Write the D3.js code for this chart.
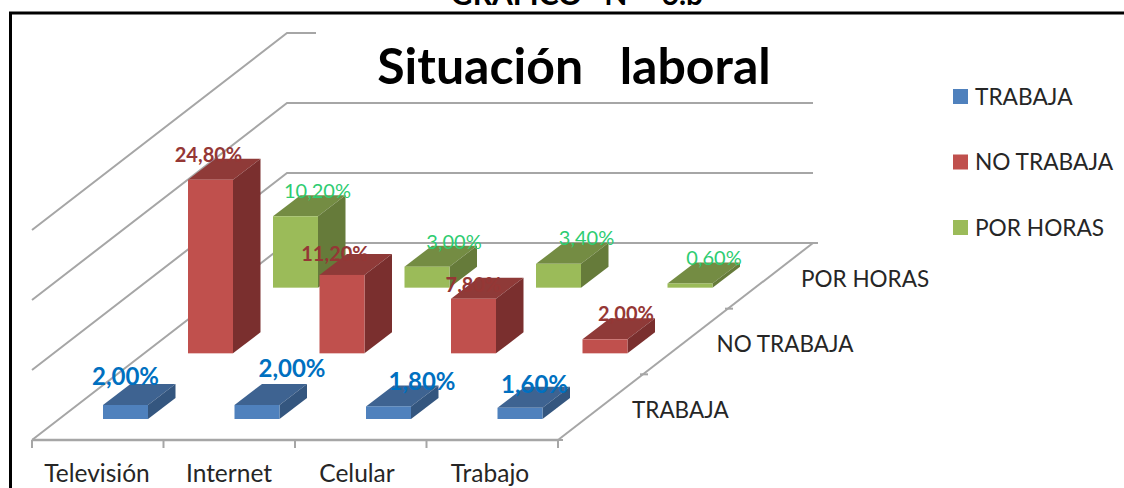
<!DOCTYPE html>
<html><head><meta charset="utf-8">
<script src="https://cdn.jsdelivr.net/npm/d3@7"></script>
<style>html,body{margin:0;background:#fff;overflow:hidden}svg{display:block}text{font-family:Lato,"Open Sans",sans-serif}</style>
</head><body><svg id="c" width="1124" height="488"></svg>
<script>
const categories=["Televisión","Internet","Celular","Trabajo"];
const seriesNames=["TRABAJA","NO TRABAJA","POR HORAS"];
const trabaja=[2.0,2.0,1.8,1.6];
const noTrabaja=[24.8,11.2,7.8,2.0];
const porHoras=[10.2,3.0,3.4,0.6];
const labelsTrabaja=["2,00%","2,00%","1,80%","1,60%"];
const labelsNoTrabaja=["24,80%","11,20%","7,80%","2,00%"];
const labelsPorHoras=["10,20%","3,00%","3,40%","0,60%"];
const gridValues=[0,10,20,30];

const palette=[
 {front:"#4f81bd",top:"#3e6391",side:"#34567f",label:"#0070c0",size:24,weight:700},
 {front:"#c0504d",top:"#8f3a38",side:"#7a2f2e",label:"#953735",size:20,weight:700},
 {front:"#9bbb59",top:"#748c43",side:"#667b3a",label:"#2ecc71",size:20,weight:400}];
const nudge=[[[0,-28],[35,-36],[33.5,-25],[14.5,-23]],[[-2,-25],[-7,-21],[0,-14],[21,-25]],[[22,-25],[27,-25],[28,-26],[24,-25]]];

const svg=d3.select("#c");
const x=d3.scaleLinear().domain([0,categories.length]).range([32,558]);
const depth=d3.scaleLinear().domain([0,seriesNames.length]).range([0,1]);
const y=d3.scaleLinear().domain([0,10]).range([0,-70]);
const backDx=255,backDy=-197,barW=45,barDx=27.5,barDy=-21,barInsetX=71,barInsetY=-21;
const proj=(cx,d,v)=>[x(cx)+d*backDx,440+d*backDy+y(v)];
const pts=a=>a.map(p=>p.join(",")).join(" ");
const grey="#a6a6a6";

// frame and clipped figure caption
svg.append("path").attr("d","M10.5,488V13H1124").attr("fill","none").attr("stroke","#000").attr("stroke-width",3);
svg.append("text").attr("x",577).attr("y",5).attr("text-anchor","middle").attr("font-size",30).attr("font-weight",700).attr("fill","#000").style("white-space","pre").text("GRÁFICO   N°   6.b");

// walls
gridValues.forEach(v=>{
  const a=proj(0,0,v),b=proj(0,1,v),c=proj(categories.length,1,v);
  svg.append("polyline").attr("points",pts([a,b,c])).attr("fill","none").attr("stroke",grey).attr("stroke-width",2);
});
{const a=proj(categories.length,0,0),b=proj(categories.length,1,0),a0=proj(0,0,0);
 svg.append("line").attr("x1",a[0]).attr("y1",a[1]).attr("x2",b[0]).attr("y2",b[1]).attr("stroke",grey).attr("stroke-width",2);
 svg.append("line").attr("x1",a0[0]).attr("y1",a0[1]).attr("x2",a[0]).attr("y2",a[1]).attr("stroke",grey).attr("stroke-width",2.5);
}
d3.range(categories.length+1).forEach(i=>{
  const p=proj(i,0,0);
  svg.append("line").attr("x1",p[0]).attr("y1",p[1]).attr("x2",p[0]).attr("y2",p[1]+8).attr("stroke",grey).attr("stroke-width",2);
});
d3.range(seriesNames.length+1).forEach(i=>{
  const p=proj(categories.length,depth(i),0);
  svg.append("line").attr("x1",p[0]-3).attr("y1",p[1]).attr("x2",p[0]+5).attr("y2",p[1]).attr("stroke",grey).attr("stroke-width",2);
});
// title mask and title
svg.append("rect").attr("x",316).attr("y",22).attr("width",520).attr("height",20).attr("fill","#fff");
svg.append("text").attr("x",574).attr("y",84).attr("text-anchor","middle").style("white-space","pre")
  .attr("font-size",50).attr("font-weight",700).attr("fill","#000").text("Situación   laboral");

// bars, back to front
const allValues=[trabaja,noTrabaja,porHoras];
const allLabels=[labelsTrabaja,labelsNoTrabaja,labelsPorHoras];
[2,1,0].forEach(s=>{
  const pal=palette[s];
  const g=svg.append("g");
  const geom=(v,i)=>{
    const p=proj(i,depth(s),0);
    const xL=p[0]+barInsetX, yB=p[1]+barInsetY;
    return {xL,xR:xL+barW,yB,yT:yB+y(v)};
  };
  allValues[s].forEach((v,i)=>{
    const {xL,xR,yB,yT}=geom(v,i);
    g.append("polygon").attr("points",pts([[xL,yT],[xR,yT],[xR+barDx,yT+barDy],[xL+barDx,yT+barDy]])).attr("fill",pal.top);
    g.append("polygon").attr("points",pts([[xR,yT],[xR+barDx,yT+barDy],[xR+barDx,yB+barDy],[xR,yB]])).attr("fill",pal.side);
    g.append("rect").attr("x",xL).attr("y",yT).attr("width",barW).attr("height",yB-yT).attr("fill",pal.front);
  });
  allValues[s].forEach((v,i)=>{
    const {xL,yT}=geom(v,i);
    g.append("text").attr("x",xL+barW/2+nudge[s][i][0]).attr("y",yT+nudge[s][i][1]).attr("text-anchor","middle").attr("dy","0.35em")
     .attr("font-size",pal.size).attr("font-weight",pal.weight).attr("fill",pal.label).text(allLabels[s][i]);
  });
});

// axis labels and legend
categories.forEach((c,i)=>{
  svg.append("text").attr("x",[97,229,357,490][i]).attr("y",473).attr("dy","0.35em").attr("text-anchor","middle").attr("font-size",24.5).attr("fill","#262626").text(c);
});
seriesNames.forEach((n,i)=>{
  svg.append("text").attr("x",632+i*84.5).attr("y",410-i*65.5).attr("dy","0.35em").attr("font-size",22.5).attr("fill","#262626").text(n);
  const ly=97+i*65.5;
  svg.append("rect").attr("x",953).attr("y",ly-8).attr("width",15).attr("height",15).attr("fill",palette[i].front);
  svg.append("text").attr("x",975).attr("y",ly).attr("dy","0.35em").attr("font-size",22.7).attr("fill","#262626").text(n);
});
</script></body></html>
